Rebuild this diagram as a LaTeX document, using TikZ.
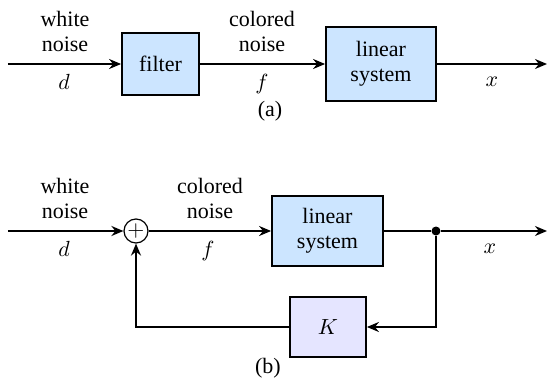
\documentclass[tikz,border=0pt]{standalone}
\usepackage{fontspec}
\setmainfont{Liberation Serif}
\usetikzlibrary{arrows.meta}
\definecolor{sysblue}{RGB}{204,229,255}
\definecolor{gainlav}{RGB}{229,229,255}
\begin{document}
\begin{tikzpicture}[x=0.5pt,y=-0.5pt,
  font=\fontsize{11}{12.5}\selectfont,
  blockbox/.style={draw,line width=0.9pt,fill=sysblue,align=center,inner sep=0pt},
  sigline/.style={draw,line width=0.9pt,-{Stealth[length=6pt,width=5pt]}},
  plainline/.style={draw,line width=0.9pt}]
\useasboundingbox (0,0) rectangle (548,386);
% (a)
\coordinate (ain) at (8,64);
\coordinate (aout) at (547,64);
\node[blockbox,minimum width=38.5pt,minimum height=31pt] (filt) at (160.5,64) {filter};
\node[blockbox,minimum width=55pt,minimum height=37pt] (alin) at (381,64) {linear\\system};
\node[align=center] (awn) at (65,31) {white\\noise};
\node[align=center] (acn) at (262,31) {colored\\noise};
\node[anchor=base] (ad) at (64,89) {$d$};
\node[anchor=base] (af) at (262,89) {$f$};
\node[anchor=base] (ax) at (492,86) {$x$};
\node[anchor=base] (alab) at (270,116) {(a)};
\path[sigline] (ain) -- (filt);
\path[sigline] (filt) -- (alin);
\path[sigline] (alin) -- (aout);
% (b)
\coordinate (bin) at (8,231);
\coordinate (bout) at (547,231);
\node[draw,circle,line width=0.6pt,minimum size=12pt,inner sep=0pt] (sum) at (136,231) {$+$};
\node[blockbox,minimum width=55.5pt,minimum height=35pt] (blin) at (327.5,231) {linear\\system};
\node[circle,fill,inner sep=0pt,minimum size=4.5pt] (tap) at (436,231) {};
\node[blockbox,fill=gainlav,minimum width=38pt,minimum height=30pt] (gain) at (328,327) {$K$};
\coordinate (tapdown) at (436,327);
\coordinate (sumdown) at (136,327);
\node[align=center] (bwn) at (65,198) {white\\noise};
\node[align=center] (bcn) at (210,198) {colored\\noise};
\node[anchor=base] (bd) at (64,256) {$d$};
\node[anchor=base] (bf) at (208,256) {$f$};
\node[anchor=base] (bx) at (490,253) {$x$};
\node[anchor=base] (blab) at (268,373) {(b)};
\path[sigline] (bin) -- (sum);
\path[sigline] (sum) -- (blin);
\path[plainline] (blin) -- (tap);
\path[sigline] (tap) -- (bout);
\path[sigline] (tap) -- (tapdown) -- (gain);
\path[sigline] (gain) -- (sumdown) -- (sum);
\end{tikzpicture}
\end{document}
